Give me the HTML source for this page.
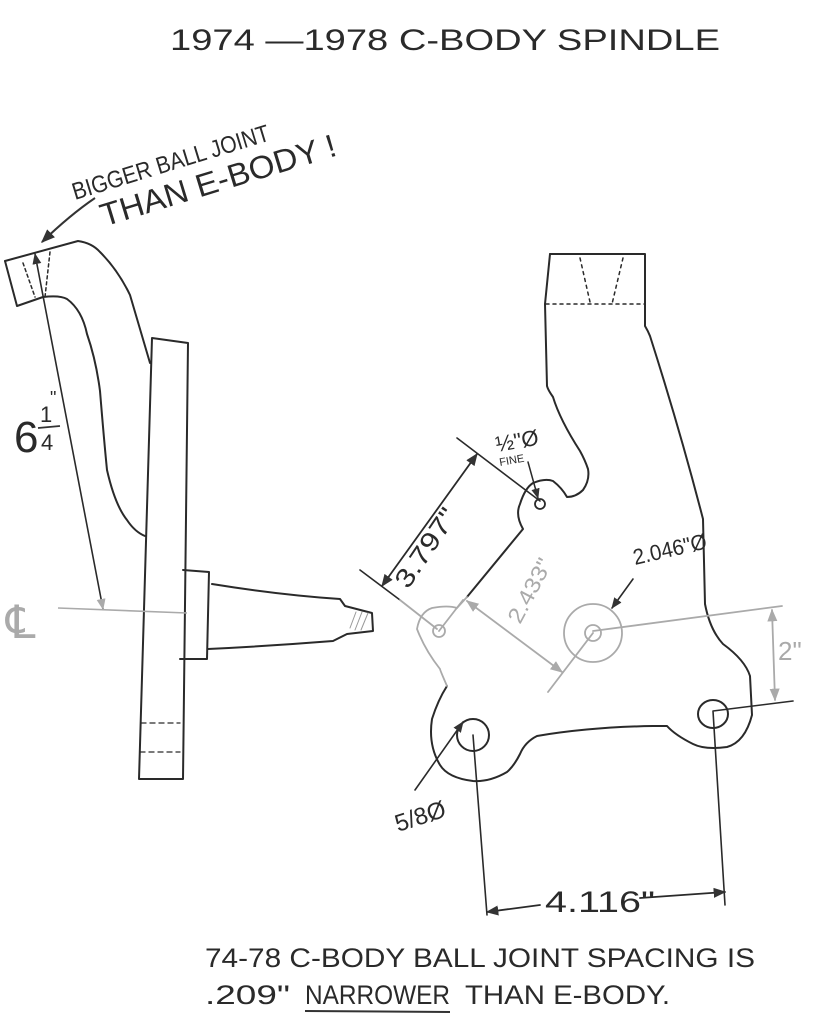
<!DOCTYPE html>
<html><head><meta charset="utf-8"><style>
html,body{margin:0;padding:0;background:#fff;}
svg{display:block;}
text{font-family:"Liberation Sans",sans-serif;fill:#2a2a2a;}
</style></head><body>
<svg width="815" height="1024" viewBox="0 0 815 1024" xmlns="http://www.w3.org/2000/svg">
<defs>
<marker id="a" viewBox="0 0 10 10" refX="9" refY="5" markerWidth="7" markerHeight="7" orient="auto-start-reverse"><path d="M0,1 L10,5 L0,9 z" fill="#333"/></marker>
<marker id="g" viewBox="0 0 10 10" refX="9" refY="5" markerWidth="7" markerHeight="7" orient="auto-start-reverse"><path d="M0,1 L10,5 L0,9 z" fill="#aaa"/></marker>
</defs>
<text x="170" y="50" font-size="30" textLength="550" lengthAdjust="spacingAndGlyphs">1974 —1978  C-BODY SPINDLE</text>

<g transform="rotate(-17 75 200)">
<text x="75" y="200" font-size="24" textLength="205" lengthAdjust="spacingAndGlyphs">BIGGER BALL JOINT</text>
<text x="95" y="234" font-size="32" textLength="245" lengthAdjust="spacingAndGlyphs">THAN E-BODY !</text>
</g>
<path d="M95,198 Q70,215 42,242" fill="none" stroke="#333" stroke-width="2" marker-end="url(#a)"/>

<g fill="none" stroke="#2a2a2a" stroke-width="2" stroke-linejoin="round" stroke-linecap="round">
<path d="M5,261 L78,241 Q92,243 100,252 Q118,270 130,295 L150,363"/>
<path d="M5,261 L17,306 L43,297 Q60,295 67,299 Q82,310 87,334 Q96,360 100,391 Q104,440 107,470 Q115,505 127,520 Q135,532 145,536"/>
<path d="M23,263 L35,297 M50,252 L45,297" stroke-dasharray="3,3" stroke-width="1.5"/>
<path d="M152,338 L188,343 L183,779 L139,779 Z"/>
<path d="M141,723 L180,723 M140,752 L180,752" stroke-dasharray="5,4" stroke-width="1.3"/>
<path d="M183,570 L209,572 L207,659 L180,659"/>
<path d="M212,584 Q280,595 340,599 L345,606 L372,613 L373,631 L347,634 L333,641 Q270,646 208,649"/>
<path d="M355,630 L362,612 M361,630 L368,613 M350,628 L356,612" stroke-width="1" stroke="#999"/>
<path d="M35,254 L103,609" stroke-width="1.6" marker-start="url(#a)" marker-end="url(#g)"/>
</g>
<path d="M58,608 L187,613" stroke="#aaa" stroke-width="1.6"/>
<text x="6" y="638" font-size="46" style="fill:#aaa">℄</text>
<text x="14" y="452" font-size="44">6</text>
<text x="40" y="422" font-size="22">1</text>
<path d="M38,428 L60,426" stroke="#333" stroke-width="1.8"/>
<text x="41" y="450" font-size="22">4</text>
<text x="50" y="404" font-size="18">"</text>

<g fill="none" stroke="#2a2a2a" stroke-width="2" stroke-linejoin="round" stroke-linecap="round">
<path d="M550,254 L645,254 L645,326 Q648,331 650,336 Q680,430 703,519 L705,604 Q710,630 723,644 Q745,660 750,676 L752,715 Q745,742 727,747 Q705,750 693,744 Q675,735 667,726 L653,726 Q590,727 537,736 Q525,742 520,754 Q514,766 507,772 Q490,782 473,781 Q448,778 440,765 Q428,745 432,719 Q438,700 447,686"/>
<path d="M467,597 L523,529 Q515,515 520,504 Q525,488 533,483 Q545,478 553,481 Q562,488 567,497 Q576,497 583,490 Q590,480 588,469 Q585,460 580,451 Q560,420 553,397 Q548,390 547,386 L545,304 L550,254"/>
<path d="M546,304 L645,304 M580,258 L590,302 M623,258 L612,304" stroke-dasharray="3,4" stroke-width="1.5"/>
<circle cx="540" cy="504" r="5" stroke-width="1.8"/>
<circle cx="473" cy="735" r="16"/>
<ellipse cx="713" cy="714" rx="15" ry="14"/>
<path d="M457,438 L540,501" stroke-width="1.6"/>
<path d="M360,570 L400,600" stroke-width="1.6"/>
<path d="M382,586 L477,454" stroke-width="1.8" marker-start="url(#a)" marker-end="url(#a)"/>
<path d="M473,735 L487,915 M713,711 L725,905 M713,711 L793,701" stroke-width="1.6"/>
<path d="M540,905 L487,912" stroke-width="1.8" marker-end="url(#a)"/>
<path d="M640,898 L725,892" stroke-width="1.8" marker-end="url(#a)"/>
<path d="M415,790 L463,722" stroke-width="1.6" marker-end="url(#a)"/>
<path d="M633,579 L612,608" stroke-width="1.6" marker-end="url(#a)"/>
<path d="M528,462 L538,498" stroke-width="1.5" marker-end="url(#a)"/>
</g>
<g fill="none" stroke="#aaa" stroke-width="1.8" stroke-linecap="round">
<path d="M400,600 L437,629"/>
<path d="M447,686 Q440,670 440,669 Q425,650 417,629 Q420,612 432,608 Q448,605 457,608 L467,597"/>
<circle cx="439" cy="631" r="6"/>
<path d="M439,631 L463,600"/>
<circle cx="593" cy="633" r="29"/>
<circle cx="593" cy="633" r="8"/>
<path d="M548,692 L593,633 M593,631 L782,606"/>
<path d="M467,601 L562,672" marker-start="url(#g)" marker-end="url(#g)"/>
<path d="M772,610 L775,700" marker-start="url(#g)" marker-end="url(#g)"/>
</g>
<text x="0" y="0" font-size="26" transform="translate(408,590) rotate(-56)" textLength="90" lengthAdjust="spacingAndGlyphs">3.797"</text>
<text x="0" y="0" font-size="22" style="fill:#aaa" transform="translate(520,625) rotate(-62)" textLength="70" lengthAdjust="spacingAndGlyphs">2.433"</text>
<text x="0" y="0" font-size="22" transform="translate(635,565) rotate(-13)" textLength="75" lengthAdjust="spacingAndGlyphs">2.046"Ø</text>
<text x="778" y="660" font-size="26" style="fill:#aaa">2"</text>
<text x="497" y="452" font-size="22" transform="rotate(-10 497 452)">½"Ø</text>
<text x="500" y="466" font-size="11" transform="rotate(-10 500 466)">FINE</text>
<text x="0" y="0" font-size="24" transform="translate(398,832) rotate(-18)">5/8Ø</text>
<text x="545" y="912" font-size="30" textLength="110" lengthAdjust="spacingAndGlyphs">4.116"</text>

<text x="205" y="967" font-size="27" textLength="550" lengthAdjust="spacingAndGlyphs">74-78 C-BODY BALL JOINT SPACING IS</text>
<text x="205" y="1004" font-size="27" textLength="85" lengthAdjust="spacingAndGlyphs">.209"</text>
<text x="305" y="1004" font-size="27" textLength="145" lengthAdjust="spacingAndGlyphs">NARROWER</text>
<text x="465" y="1004" font-size="27" textLength="205" lengthAdjust="spacingAndGlyphs">THAN E-BODY.</text>
<path d="M305,1011 L450,1012" stroke="#333" stroke-width="2"/>
</svg>
</body></html>
